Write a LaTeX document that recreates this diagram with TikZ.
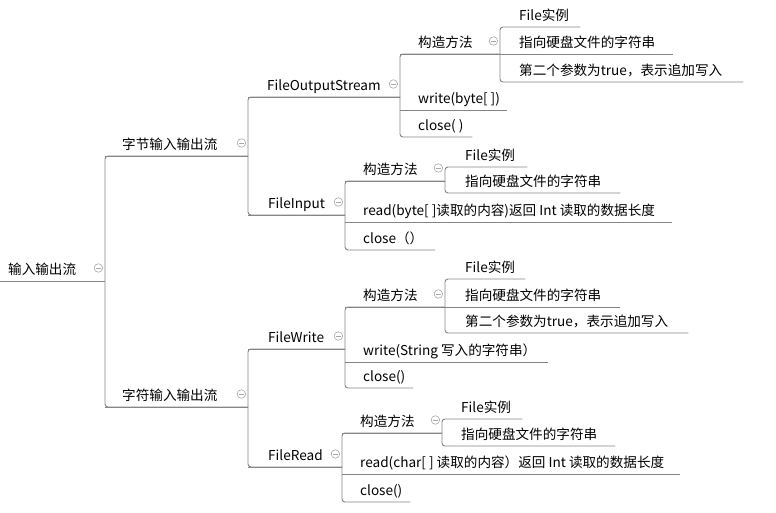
\documentclass[tikz,border=0pt]{standalone}
\usepackage{fontspec}
\setmainfont{Noto Sans CJK SC}
\usetikzlibrary{calc}
\newcommand\mmtx[3]{\makebox[#1pt][l]{\hspace*{#2pt}#3}}
\definecolor{lncol}{HTML}{858585}
\definecolor{iccol}{HTML}{A8A8A8}
\tikzset{
  tn/.style={anchor=south west, inner xsep=0pt, inner ysep=3pt, text height=11pt, text depth=3pt, font=\fontsize{13.6pt}{16pt}\selectfont},
  ln/.style={draw=lncol, line width=0.9pt},
  br/.style={ln, rounded corners=3pt},
  ico/.style={circle, draw=iccol, line width=0.6pt, minimum size=8.5pt, inner sep=0pt,
    path picture={\draw[iccol, line width=0.6pt] ([xshift=-2.3pt]path picture bounding box.center) -- ([xshift=2.3pt]path picture bounding box.center);}}
}
\begin{document}
\begin{tikzpicture}[x=1pt,y=-1pt]
\useasboundingbox (0,0) rectangle (776,513);
% nodes
\node[tn] (root) at (0,281) {\mmtx{105}{8}{输入输出流}};
\node[tn] (b) at (105,156) {\mmtx{143}{17}{字节输入输出流}};
\node[tn] (c) at (105,407) {\mmtx{143}{17}{字符输入输出流}};
\node[tn] (fos) at (248,97) {\mmtx{152}{19}{FileOutputStream}};
\node[tn] (fi) at (248,215) {\mmtx{97}{20}{FileInput}};
\node[tn] (fw) at (248,349) {\mmtx{97}{20}{FileWrite}};
\node[tn] (fr) at (248,467) {\mmtx{94}{20}{FileRead}};
\node[tn] (fosc) at (400,54) {\mmtx{100}{18}{构造方法}};
\node[tn] (fosw) at (400,110) {\mmtx{107}{18}{write(byte[ ])}};
\node[tn] (fosx) at (400,137) {\mmtx{72}{18}{close( )}};
\node[tn] (fa1) at (500,27) {\mmtx{80}{19}{File实例}};
\node[tn] (fa2) at (500,54) {\mmtx{173}{19}{指向硬盘文件的字符串}};
\node[tn] (fa3) at (500,82) {\mmtx{243}{19}{第二个参数为true，表示追加写入}};
\node[tn] (fic) at (345,181) {\mmtx{100}{18}{构造方法}};
\node[tn] (fir) at (345,222) {\mmtx{327}{18}{read(byte[ ]读取的内容)返回 Int 读取的数据长度}};
\node[tn] (fix) at (345,250) {\mmtx{90}{18}{close（）}};
\node[tn] (ga1) at (445,167) {\mmtx{82}{20}{File实例}};
\node[tn] (ga2) at (445,193) {\mmtx{175}{20}{指向硬盘文件的字符串}};
\node[tn] (fwc) at (345,307) {\mmtx{100}{18}{构造方法}};
\node[tn] (fww) at (345,362) {\mmtx{203}{18}{write(String 写入的字符串）}};
\node[tn] (fwx) at (345,388) {\mmtx{68}{18}{close()}};
\node[tn] (ha1) at (445,279) {\mmtx{80}{20}{File实例}};
\node[tn] (ha2) at (445,307) {\mmtx{175}{20}{指向硬盘文件的字符串}};
\node[tn] (ha3) at (445,333) {\mmtx{243}{20}{第二个参数为true，表示追加写入}};
\node[tn] (frc) at (342,433) {\mmtx{100}{18}{构造方法}};
\node[tn] (frr) at (342,474) {\mmtx{338}{18}{read(char[ ] 读取的内容）返回 Int 读取的数据长度}};
\node[tn] (frx) at (342,502) {\mmtx{68}{18}{close()}};
\node[tn] (ka1) at (442,419) {\mmtx{80}{19}{File实例}};
\node[tn] (ka2) at (442,446) {\mmtx{173}{19}{指向硬盘文件的字符串}};
% underlines of nodes that join a bracket in the middle
\foreach \n in {root,b,c,fos,fi,fw,fr,fosc,fic,fwc,frc,fosw,fa2,fir,fww,frr,ha2}
  \draw[ln] (\n.south west) -- (\n.south east);
% brackets
\draw[br] (b.south east) -- (b.south west) -- (c.south west) -- (c.south east);
\draw[br] (fos.south east) -- (fos.south west) -- (fi.south west) -- (fi.south east);
\draw[br] (fw.south east) -- (fw.south west) -- (fr.south west) -- (fr.south east);
\draw[br] (fosc.south east) -- (fosc.south west) -- (fosx.south west) -- (fosx.south east);
\draw[br] (fa1.south east) -- (fa1.south west) -- (fa3.south west) -- (fa3.south east);
\draw[br] (fic.south east) -- (fic.south west) -- (fix.south west) -- (fix.south east);
\draw[br] (ga1.south east) -- (ga1.south west) -- (ga2.south west) -- (ga2.south east);
\draw[br] (fwc.south east) -- (fwc.south west) -- (fwx.south west) -- (fwx.south east);
\draw[br] (ha1.south east) -- (ha1.south west) -- (ha3.south west) -- (ha3.south east);
\draw[br] (frc.south east) -- (frc.south west) -- (frx.south west) -- (frx.south east);
\draw[br] (ka1.south east) -- (ka1.south west) -- (ka2.south west) -- (ka2.south east);
% collapse icons
\foreach \n in {root,b,c,fos,fi,fw,fr,fosc,fic,fwc,frc}
  \node[ico] (ic-\n) at ($(\n.south east)+(-7,-13)$) {};
\end{tikzpicture}
\end{document}
